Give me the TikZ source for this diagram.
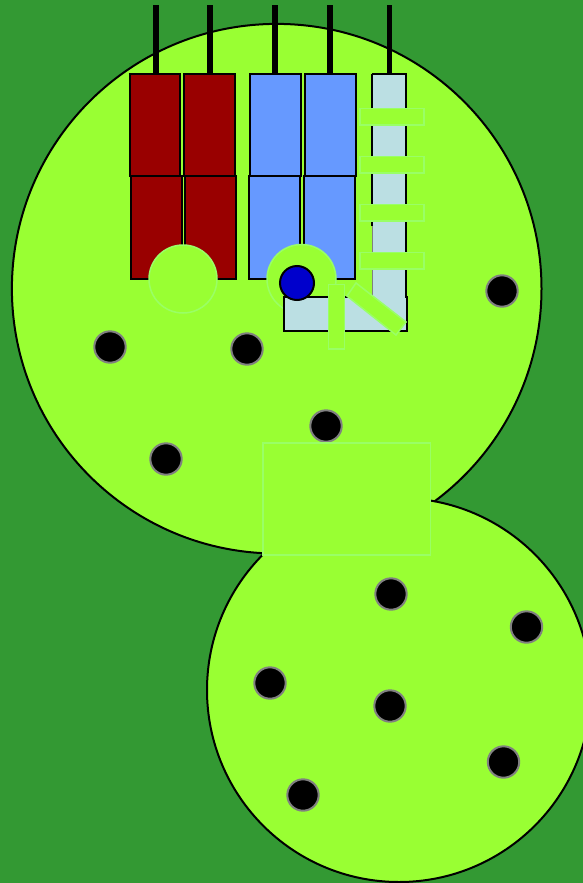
\documentclass[tikz,border=0pt]{standalone}
\definecolor{bgreen}{HTML}{339933}
\definecolor{lime}{HTML}{99FF33}
\definecolor{limeline}{HTML}{99FF66}
\definecolor{dred}{HTML}{990000}
\definecolor{sblue}{HTML}{6699FF}
\definecolor{pale}{HTML}{BBDFE3}
\definecolor{dblue}{HTML}{0000CC}
\tikzset{
  x=1bp,y=-1bp,
  land/.style={fill=lime,draw=black,line width=2bp},
  redbox/.style={fill=dred,draw=black,line width=2bp},
  bluebox/.style={fill=sblue,draw=black,line width=2bp},
  palebox/.style={fill=pale,draw=black,line width=2bp},
  pin/.style={draw=black,line width=5.5bp},
  cut/.style={fill=lime,draw=limeline,line width=1.5bp},
  hole/.style={fill=black,draw=gray,line width=2bp},
}
\begin{document}
\begin{tikzpicture}
\useasboundingbox (0,0) rectangle (583,883);
\fill[bgreen] (0,0) rectangle (583,883);
% land
\draw[land] (276.7,288.7) circle[radius=264.8];
\draw[land] (399,690) circle[radius=192];
% pins
\foreach \px/\pt in {156/74,210/74,275/74,330/74,389.5/74}
  \draw[pin] (\px,5) -- (\px,\pt);
% lower boxes
\draw[redbox] (131,176) rectangle (182,279);
\draw[redbox] (185,176) rectangle (236,279);
\draw[bluebox] (249,176) rectangle (300,279);
\draw[bluebox] (304,176) rectangle (355,279);
% upper boxes
\draw[redbox] (130,74) rectangle (180,176);
\draw[redbox] (184,74) rectangle (235,176);
\draw[bluebox] (250,74) rectangle (301,176);
\draw[bluebox] (305,74) rectangle (356,176);
% clearing circles
\draw[cut] (183,279) circle[radius=34];
\draw[cut] (301.5,279) circle[radius=34.5];
% pale channel
\draw[palebox] (284,297) rectangle (407,331);
\fill[pale] (372.7,226) rectangle (405,320);
\draw[black,line width=2bp] (406,226) -- (406,297);
\draw[gray,line width=.8bp] (372.5,226) -- (372.5,297);
\draw[palebox] (372,74) -- (406,74) -- (406,226) (372,226) -- (372,74);
\fill[pale] (373,75) rectangle (405,240);
% side cuts
\foreach \py in {108.5,156.5,204.5,252.5}
  \draw[cut] (360,\py) rectangle (424,\py+16.5);
\draw[cut] (328.5,284.5) rectangle (344.5,349);
\draw[cut] (356,283) -- (406,322) -- (396,335) -- (347,296) -- cycle;
% gate
\draw[fill=dblue,draw=black,line width=2bp] (297,283) circle[radius=17];
% holes
\foreach \hx/\hy in {110/347,247/349,502/291,166/459,326/426,391/594,526.5/627,270/683,390/706,503.5/762,303/795}
  \draw[hole] (\hx,\hy) circle[radius=15.7];
% junction
\draw[cut] (263,443) rectangle (430.5,555);
\end{tikzpicture}
\end{document}
